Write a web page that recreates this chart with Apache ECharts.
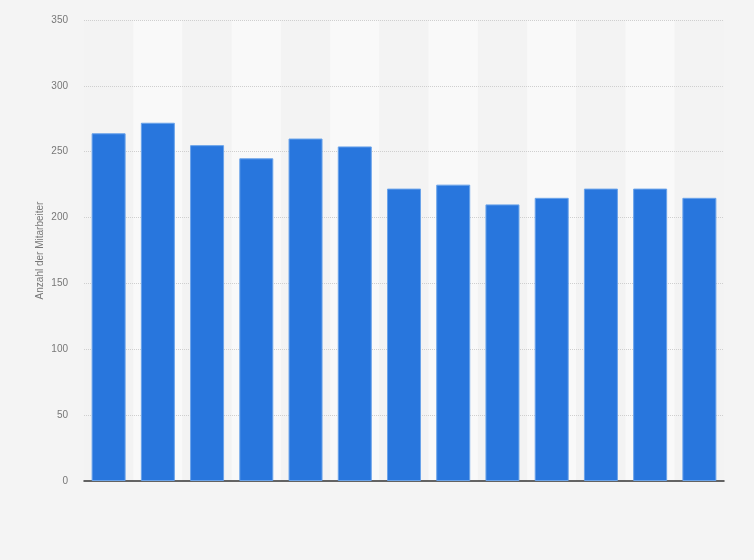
<!DOCTYPE html>
<html><head><meta charset="utf-8">
<script src="https://cdn.jsdelivr.net/npm/echarts@6/dist/echarts.min.js"></script>
<style>html,body{margin:0;padding:0;background:#f4f4f4}#c{width:754px;height:560px}</style>
</head><body><div id="c"></div>
<script>
const categories = ['2009','2010','2011','2012','2013','2014','2015','2016','2017','2018','2019','2020','2021'];
const values = [264, 272, 255, 245, 260, 254, 222, 225, 210, 215, 222, 222, 215];
const yTicks = [0, 50, 100, 150, 200, 250, 300, 350];

const chart = echarts.init(document.getElementById('c'));
chart.setOption({
  backgroundColor: '#f4f4f4',
  animation: false,
  grid: { left: 84, right: 30, top: 20, bottom: 79 },
  xAxis: {
    type: 'category',
    data: categories,
    z: 1,
    axisLine: { show: true, lineStyle: { color: '#333', width: 1.5 } },
    axisTick: { show: false },
    axisLabel: { show: false },
    splitArea: { show: true, interval: 0, areaStyle: { color: ['#f3f3f3', '#f9f9f9'] } }
  },
  yAxis: {
    type: 'value',
    z: 3,
    min: yTicks[0], max: yTicks[yTicks.length - 1], interval: 50,
    name: 'Anzahl der Mitarbeiter',
    nameLocation: 'middle',
    nameGap: 39,
    nameMoveOverlap: false,
    nameTextStyle: { color: '#777', fontSize: 10, fontFamily: 'Arial, Liberation Sans, sans-serif' },
    axisLine: { show: false },
    axisTick: { show: false },
    axisLabel: { color: '#777', fontSize: 10, margin: 16, fontFamily: 'Arial, Liberation Sans, sans-serif' },
    splitLine: { showMinLine: false, lineStyle: { color: '#cfcfcf', type: 'dotted' } }
  },
  series: [{
    type: 'bar',
    z: 5,
    data: values,
    barWidth: 34,
    itemStyle: { color: '#2876dd', borderColor: '#6aa3ea', borderWidth: 1 }
  }]
});
</script>
</body></html>
